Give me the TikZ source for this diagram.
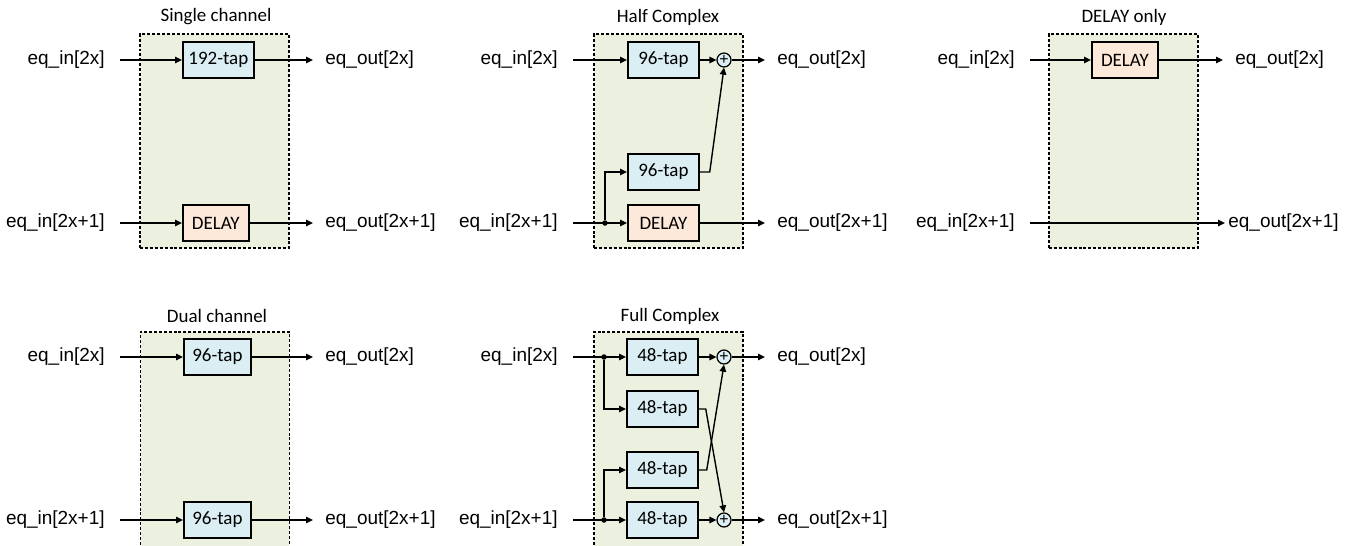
\documentclass[tikz,border=0pt]{standalone}
\usepackage{fontspec}
\setmainfont{Liberation Sans}
\newfontfamily\calfont{Carlito}
\usepackage{tikz}
\usetikzlibrary{positioning,arrows.meta}
\definecolor{grpgreen}{HTML}{EBF1DE}
\definecolor{tapblue}{HTML}{DAEEF3}
\definecolor{dlypeach}{HTML}{FDE9D9}
\tikzset{
  eq/.style={font=\fontsize{10.8}{13}\selectfont, inner sep=0pt},
  eq grp/.style={draw, fill=grpgreen, line width=0.7pt, dash pattern=on 1.7pt off 1.1pt,
                 minimum width=2.98cm, minimum height=4.28cm, inner sep=0pt},
  eq head/.style={eq, font=\calfont\fontsize{10.8}{13}\selectfont},
  eq tap/.style={eq head, draw, line width=1pt, fill=tapblue, minimum width=1.42cm,
                 minimum height=0.72cm, anchor=west},
  eq dly/.style={eq tap, fill=dlypeach},
  eq sum/.style={circle, draw, fill=tapblue, line width=0.7pt, minimum size=0.28cm, inner sep=0pt,
                 font=\fontsize{9}{9}\selectfont},
  eq dot/.style={circle, fill=black, minimum size=0.11cm, inner sep=0pt},
  eq in/.style={eq, anchor=east, inner xsep=0.3cm},
  eq out/.style={eq, anchor=west, inner xsep=0.24cm},
  eq arr/.style={-{Triangle[length=1.4mm,width=1.3mm]}, line width=0.8pt},
}

\begin{document}
\begin{tikzpicture}[x=0.02cm, y=-0.02cm]
  \useasboundingbox (0,0) rectangle (1353,545);
  \clip (0,0) rectangle (1353,545);
  % frames and titles
  \node[eq grp] (sc) at (214.5,141) {};
  \node[eq grp] (hc) at (668.5,141) {};
  \node[eq grp] (do) at (1123.5,141) {};
  \node[eq grp, minimum height=4.7cm] (dc) at (215,449.5) {};
  \node[eq grp, minimum height=4.7cm] (fc) at (668.5,449.5) {};
  \node[eq head] (sct) at (216,17) {Single channel};
  \node[eq head] (hct) at (668,17) {Half Complex};
  \node[eq head] (dot) at (1124,17) {DELAY only};
  \node[eq head] (dct) at (217,316) {Dual channel};
  \node[eq head] (fct) at (670,316) {Full Complex};
  % inputs / outputs
  \foreach \n/\x/\y in {1a/120/60, 2a/573/60, 3a/1030/60, 4a/120/357, 5a/573/357}
     \node[eq in] (in\n) at (\x,\y) {eq\_in[2x]};
  \foreach \n/\x/\y in {1b/120/223, 2b/573/223, 3b/1030/223, 4b/120/520, 5b/573/520}
     \node[eq in] (in\n) at (\x,\y) {eq\_in[2x+1]};
  \foreach \n/\x/\y in {1a/313/60, 2a/765/60, 3a/1223/60, 4a/313/357, 5a/765/357}
     \node[eq out] (out\n) at (\x,\y) {eq\_out[2x]};
  \foreach \n/\x/\y in {1b/313/223, 2b/765/223, 4b/313/520, 5b/765/520}
     \node[eq out] (out\n) at (\x,\y) {eq\_out[2x+1]};
  \node[eq out, inner xsep=0.06cm] (out3b) at (1225,223) {eq\_out[2x+1]};
  % single channel
  \node[eq tap] (sc192) at (182,60) {192-tap};
  \node[eq dly, minimum width=1.32cm] (scdel) at (182,223) {DELAY};
  % half complex
  \node[eq tap] (hc96a) at (627,60) {96-tap};
  \node[eq tap] (hc96b) at (627,172) {96-tap};
  \node[eq dly] (hcdel) at (627,223) {DELAY};
  \node[eq sum] (hcsum) at (724,60) {+};
  % delay only
  \node[eq dly, minimum width=1.32cm] (dodel) at (1091,60) {DELAY};
  % dual channel
  \node[eq tap, minimum width=1.34cm] (dc96a) at (183,357) {96-tap};
  \node[eq tap, minimum width=1.34cm] (dc96b) at (183,520) {96-tap};
  % full complex
  \node[eq tap] (fc48a) at (626,357) {48-tap};
  \node[eq tap] (fc48b) at (626,409) {48-tap};
  \node[eq tap] (fc48c) at (626,470) {48-tap};
  \node[eq tap] (fc48d) at (626,520) {48-tap};
  \node[eq sum] (fcsa) at (724,357) {+};
  \node[eq sum] (fcsb) at (724,520) {+};
  % connectors
  \foreach \a/\b in {in1a/sc192, sc192/out1a, in1b/scdel, scdel/out1b,
                     in2a/hc96a, hc96a/hcsum, hcsum/out2a, in2b/hcdel, hcdel/out2b,
                     in3a/dodel, dodel/out3a, in3b/out3b,
                     in4a/dc96a, dc96a/out4a, in4b/dc96b, dc96b/out4b,
                     in5a/fc48a, fc48a/fcsa, fcsa/out5a, in5b/fc48d, fc48d/fcsb, fcsb/out5b}
     \draw[eq arr] (\a) -- (\b);
  \node[eq dot] (hcj) at (605,223) {};
  \node[eq dot] (fcja) at (604,357) {};
  \node[eq dot] (fcjb) at (604,520) {};
  \draw[eq arr] (hcj) |- (hc96b.west);
  \draw[eq arr] (hc96b.east) -- ++(10,0) -- (hcsum.south);
  \draw[eq arr] (fcja) |- (fc48b.west);
  \draw[eq arr] (fcjb) |- (fc48c.west);
  \draw[eq arr] (fc48b.east) -- ++(7,0) -- (fcsb.north);
  \draw[eq arr] (fc48c.east) -- ++(8,0) -- (fcsa.south);
\end{tikzpicture}
\end{document}
